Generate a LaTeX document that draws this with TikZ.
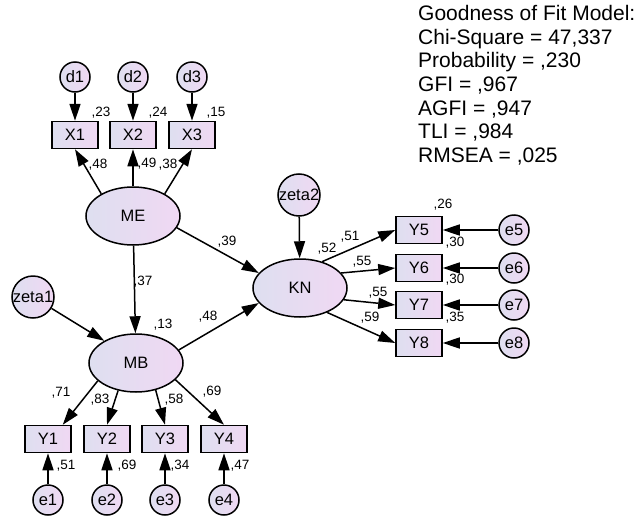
\documentclass[tikz,border=0pt]{standalone}
\usepackage{fontspec}
\setmainfont{Liberation Sans}
\definecolor{shadeleft}{RGB}{222, 223, 240}
\definecolor{shaderight}{RGB}{240, 216, 243}
\usetikzlibrary{arrows.meta, shapes.geometric}
\tikzset{
    latent/.style={ellipse, draw, line width=1.5pt, left color=shadeleft,
        right color=shaderight, minimum width=94pt, minimum height=58pt,
        font=\fontsize{16.5}{18}\selectfont},
    observed/.style={rectangle, draw, line width=1.5pt, left color=shadeleft,
        right color=shaderight, minimum width=46pt, minimum height=27pt,
        inner sep=0pt, font=\fontsize{16.5}{18}\selectfont},
    residual/.style={circle, draw, line width=1.5pt, left color=shadeleft,
        right color=shaderight, minimum size=30pt, inner sep=0pt,
        font=\fontsize{16.5}{18}\selectfont},
    disturbance/.style={residual, minimum size=42pt},
    reg/.style={line width=1.5pt, -{Triangle[length=17pt, width=11pt]}},
    coef/.style={inner sep=0pt, font=\fontsize{13.5}{15}\selectfont},
}

\begin{document}
\begin{tikzpicture}[x=1pt, y=-1pt]
    \useasboundingbox (0, 0) rectangle (638, 517);
    % ME and its indicators
    \node[latent] (me) at (133, 216) {ME};
    \foreach \i/\x in {1/75, 2/133, 3/192}{
        \node[residual] (d\i) at (\x, 77) {d\i};
        \node[observed] (x\i) at (\x, 135) {X\i};
        \draw[reg] (d\i) -- (x\i);
    }
    \draw[reg] (me.145) -- (x1.south);
    \draw[reg] (me) -- (x2);
    \draw[reg] (me.35) -- (x3.south);
    % MB and its indicators
    \node[latent] (mb) at (136, 363) {MB};
    \node[disturbance] (zeta1) at (33, 297) {zeta1};
    \foreach \i/\x in {1/48, 2/107, 3/165, 4/224}{
        \node[observed] (y\i) at (\x, 439) {Y\i};
        \node[residual] (e\i) at (\x, 500) {e\i};
        \draw[reg] (e\i) -- (y\i);
    }
    \draw[reg] (mb.205) -- (y1.44);
    \draw[reg] (mb.237) -- (y2.north);
    \draw[reg] (mb.306) -- (y3.north);
    \draw[reg] (mb.337) -- (y4.north);
    % KN and its indicators
    \node[latent] (kn) at (300, 288) {KN};
    \node[disturbance] (zeta2) at (299, 195) {zeta2};
    \foreach \i/\y in {5/230, 6/268, 7/305, 8/343}{
        \node[observed] (y\i) at (419, \y) {Y\i};
        \node[residual] (e\i) at (514, \y) {e\i};
        \draw[reg] (e\i) -- (y\i);
    }
    \draw[reg] (kn.50) -- (y5.west);
    \draw[reg] (kn.20) -- (y6.west);
    \draw[reg] (kn.-15) -- (y7.west);
    \draw[reg] (kn.-42) -- (y8.west);
    % structural paths
    \draw[reg] (me) -- (mb);
    \draw[reg] (me.-15) -- (kn.160);
    \draw[reg] (mb.17) -- (kn.200);
    \draw[reg] (zeta1) -- (mb.145);
    \draw[reg] (zeta2) -- (kn);
    % estimates
    \foreach \x/\y/\v [count=\k] in {101/113/23, 158/113/24, 216/113/15,
        98/165/48, 147/164/49, 168/165/38, 227/242/39, 143/282/37,
        163/325/13, 208/317/48, 327/249/52, 350/237/51, 362/262/55,
        378/293/55, 370/318/59, 443/205/26, 455/243/30, 455/280/30,
        455/318/35, 61/393/71, 100/400/83, 174/400/58, 212/392/69,
        66/466/51, 127/466/69, 180/466/34, 240/466/47}
        \node[coef] (c\k) at (\x, \y) {,\v};
    \node[anchor=north west, align=left, inner sep=0pt,
        font=\fontsize{21}{23.7}\selectfont] (fit) at (418, 5)
        {Goodness of Fit Model:\\Chi-Square = 47,337\\Probability = ,230\\
        GFI = ,967\\AGFI = ,947\\TLI = ,984\\RMSEA = ,025};
\end{tikzpicture}
\end{document}
